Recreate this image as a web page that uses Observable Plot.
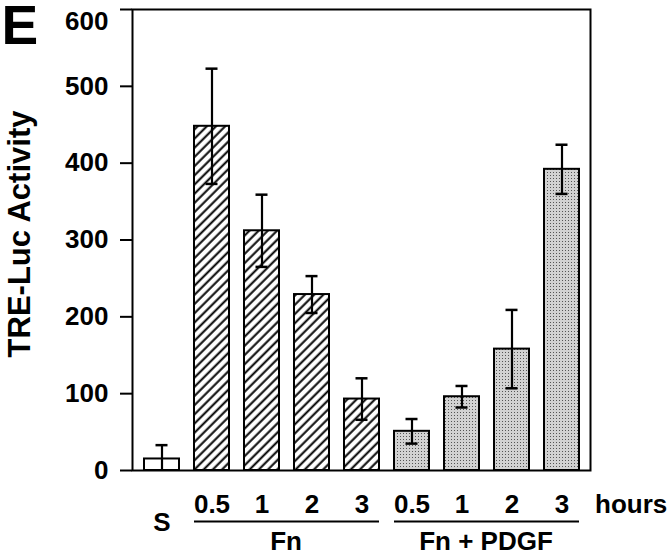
<!DOCTYPE html>
<html>
<head>
<meta charset="utf-8">
<script src="https://cdn.jsdelivr.net/npm/d3@7"></script>
<script src="https://cdn.jsdelivr.net/npm/@observablehq/plot@0.6"></script>
<style>
  html, body { margin: 0; padding: 0; background: #fff; }
  #chart svg { display: block; }
</style>
</head>
<body>
<div id="chart"></div>
<script>
// ---- data ----
const categories = ["S", "Fn 0.5", "Fn 1", "Fn 2", "Fn 3", "Fn+PDGF 0.5", "Fn+PDGF 1", "Fn+PDGF 2", "Fn+PDGF 3"];
const tickLabels = ["S", "0.5", "1", "2", "3", "0.5", "1", "2", "3"];
const groups = ["S", "Fn", "Fn", "Fn", "Fn", "Fn + PDGF", "Fn + PDGF", "Fn + PDGF", "Fn + PDGF"];
const values = [15, 448, 312, 229, 93, 51, 96, 158, 392];
const errors = [18, 75, 47, 24, 27, 16, 14, 51, 32];
const yTicks = [0, 100, 200, 300, 400, 500, 600];
const yLabel = "TRE-Luc Activity";
const panelLetter = "E";
const unitLabel = "hours";
const groupSpans = [
  {name: "Fn", first: "Fn 0.5", last: "Fn 3", mid: "Fn 1"},
  {name: "Fn + PDGF", first: "Fn+PDGF 0.5", last: "Fn+PDGF 3", mid: "Fn+PDGF 1"}
];

const rows = categories.map((c, i) => ({
  cat: c, label: tickLabels[i], group: groups[i], value: values[i],
  lo: Math.max(0, values[i] - errors[i]), hi: values[i] + errors[i]
}));
const fillFor = {"S": "white", "Fn": "url(#hatch)", "Fn + PDGF": "url(#stipple)"};

const font = "'Liberation Sans', Arial, Helvetica, sans-serif";

const plot = Plot.plot({
  width: 669,
  height: 555,
  marginLeft: 132,
  marginRight: 79,
  marginTop: 9,
  marginBottom: 85,
  style: {fontFamily: font, fontWeight: "bold", fontSize: "26px", color: "black", background: "white"},
  x: {domain: categories, paddingInner: 0.3, paddingOuter: 0.18, axis: null},
  y: {domain: [0, 600], axis: null},
  marks: [
    Plot.axisY({ticks: yTicks, tickSize: 12, tickPadding: 12, strokeWidth: 2, fontSize: 26, fontWeight: "bold", label: null, textStroke: null}),
    Plot.barY(rows, {x: "cat", y: "value", fill: d => fillFor[d.group], stroke: "black", strokeWidth: 2}),
    Plot.ruleX(rows, {x: "cat", y1: "lo", y2: "hi", stroke: "black", strokeWidth: 2.2}),
    Plot.tickY(rows, {x: "cat", y: "hi", stroke: "black", strokeWidth: 2.5, insetLeft: 11.5, insetRight: 11.5}),
    Plot.tickY(rows.filter(d => d.value - (d.hi - d.value) > 0), {x: "cat", y: "lo", stroke: "black", strokeWidth: 2.5, insetLeft: 11.5, insetRight: 11.5}),
    Plot.frame({stroke: "black", strokeWidth: 2}),
    // x tick labels (hours)
    Plot.text(rows.filter(d => d.group !== "S"), {x: "cat", text: "label", frameAnchor: "bottom", lineAnchor: "middle", dy: 34, fontSize: 26, fontWeight: "bold"}),
    // S label (lower)
    Plot.text(rows.filter(d => d.group === "S"), {x: "cat", text: "label", frameAnchor: "bottom", lineAnchor: "middle", dy: 52, fontSize: 26, fontWeight: "bold"}),
    // group underlines
    Plot.ruleY(groupSpans, {y: () => 0, x1: "first", x2: "last", dy: 51, stroke: "black", strokeWidth: 2.2}),
    // group names
    Plot.text(groupSpans, {x: "mid", text: "name", frameAnchor: "bottom", lineAnchor: "middle", dx: 24, dy: 71, fontSize: 26, fontWeight: "bold"}),
    // unit label
    Plot.text([unitLabel], {x: () => categories[categories.length - 1], text: d => d, frameAnchor: "bottom", lineAnchor: "middle", textAnchor: "start", dx: 33, dy: 34, fontSize: 26, fontWeight: "bold"}),
    // y-axis title
    Plot.text([yLabel], {frameAnchor: "left", text: d => d, rotate: -90, textAnchor: "middle", lineAnchor: "middle", dx: -112, dy: -6, fontSize: 31, fontWeight: "bold"}),
    // panel letter
    Plot.text([panelLetter], {frameAnchor: "top-left", text: d => d, textAnchor: "start", lineAnchor: "top", dx: -131, dy: -5, fontSize: 55, fontWeight: "bold"})
  ]
});

// nudge the top tick label inside the picture, as in the reference
d3.select(plot).selectAll("text").filter(function() { return this.textContent === "600"; }).attr("dy", "0.47em");

const defs = d3.select(plot).insert("defs", ":first-child");
const hatch = defs.append("pattern").attr("id", "hatch").attr("patternUnits", "userSpaceOnUse")
  .attr("width", 6.5).attr("height", 6.5).attr("patternTransform", "rotate(45)");
hatch.append("rect").attr("width", 6.5).attr("height", 6.5).attr("fill", "white");
hatch.append("line").attr("x1", 1.5).attr("x2", 1.5).attr("y1", 0).attr("y2", 6.5).attr("stroke", "black").attr("stroke-width", 2);
const stip = defs.append("pattern").attr("id", "stipple").attr("patternUnits", "userSpaceOnUse")
  .attr("width", 3).attr("height", 3);
stip.append("rect").attr("width", 3).attr("height", 3).attr("fill", "#d2d2d2");
stip.append("rect").attr("x", 1).attr("y", 1).attr("width", 1).attr("height", 1).attr("fill", "#555");

document.getElementById("chart").appendChild(plot);
</script>
</body>
</html>
